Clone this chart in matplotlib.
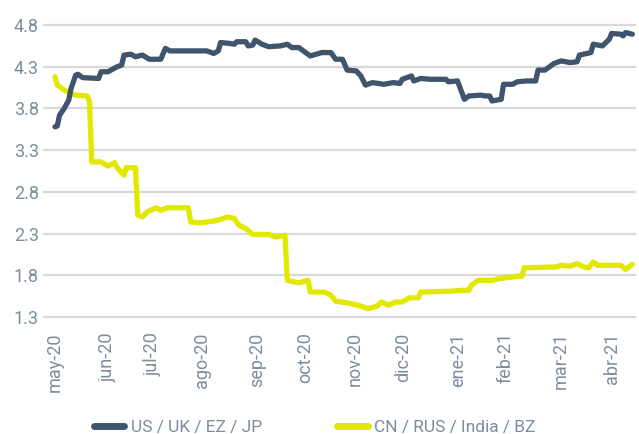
import matplotlib
matplotlib.use("Agg")
import matplotlib.pyplot as plt

# trading-day index and values
dev_days = [0, 1, 2, 4, 6, 7, 9, 10, 12, 19, 20, 23, 27, 29, 30, 33, 35, 38, 41, 46, 48, 50,
            66, 69, 71, 72, 76, 78, 79, 83, 84, 86, 87, 90, 93, 98, 101, 103, 106, 111, 116,
            120, 122, 125, 127, 131, 133, 135, 138, 143, 147, 150, 151, 155, 156, 159, 163,
            170, 171, 175, 178, 180, 185, 187, 189, 190, 194, 195, 199, 201, 205, 209, 210,
            213, 217, 220, 224, 227, 228, 233, 234, 238, 241, 242, 246, 247, 248, 251]
dev_vals = [3.58, 3.59, 3.72, 3.80, 3.90, 4.04, 4.20, 4.21, 4.17, 4.16, 4.24, 4.24, 4.30, 4.32,
            4.44, 4.45, 4.42, 4.44, 4.39, 4.39, 4.52, 4.49, 4.49, 4.46, 4.49, 4.59, 4.58, 4.57,
            4.60, 4.60, 4.55, 4.56, 4.62, 4.57, 4.54, 4.55, 4.57, 4.53, 4.53, 4.43, 4.47, 4.47,
            4.39, 4.39, 4.26, 4.25, 4.19, 4.08, 4.11, 4.09, 4.11, 4.10, 4.15, 4.19, 4.13, 4.16,
            4.15, 4.15, 4.12, 4.13, 3.91, 3.95, 3.96, 3.95, 3.95, 3.89, 3.91, 4.09, 4.09, 4.12,
            4.13, 4.13, 4.26, 4.26, 4.34, 4.37, 4.35, 4.36, 4.44, 4.47, 4.57, 4.55, 4.63, 4.70,
            4.69, 4.67, 4.71, 4.69]

em_days = [0, 1, 3, 6, 9, 14, 15, 16, 20, 23, 26, 27, 30, 31, 35, 36, 38, 40, 44, 46, 49, 58,
           59, 63, 69, 72, 75, 78, 80, 83, 86, 93, 96, 100, 101, 104, 106, 110, 111, 117, 120,
           122, 127, 132, 136, 140, 142, 145, 148, 151, 154, 158, 159, 172, 177, 180, 181, 184,
           190, 193, 199, 201, 203, 204, 218, 220, 224, 227, 230, 232, 234, 236, 246, 248, 251]
em_vals = [4.18, 4.08, 4.04, 3.99, 3.96, 3.95, 3.88, 3.16, 3.16, 3.11, 3.15, 3.09, 3.00, 3.09,
           3.09, 2.52, 2.50, 2.56, 2.61, 2.58, 2.61, 2.61, 2.44, 2.43, 2.45, 2.47, 2.50, 2.48,
           2.40, 2.36, 2.29, 2.29, 2.26, 2.28, 1.74, 1.72, 1.71, 1.74, 1.60, 1.60, 1.56, 1.49,
           1.47, 1.44, 1.40, 1.43, 1.48, 1.44, 1.48, 1.48, 1.53, 1.53, 1.60, 1.61, 1.62, 1.62,
           1.68, 1.74, 1.74, 1.76, 1.78, 1.79, 1.79, 1.89, 1.90, 1.92, 1.91, 1.94, 1.90, 1.89,
           1.96, 1.92, 1.92, 1.87, 1.93]

month_labels = ["may-20", "jun-20", "jul-20", "ago-20", "sep-20", "oct-20", "nov-20",
                "dic-20", "ene-21", "feb-21", "mar-21", "abr-21"]
month_pos = [0, 23, 42.5, 64, 87.7, 109, 130.4, 151.4, 175.3, 195.7, 219.9, 242]
y_ticks = [1.3, 1.8, 2.3, 2.8, 3.3, 3.8, 4.3, 4.8]

series_names = ["US / UK / EZ / JP", "CN / RUS / India / BZ"]
dark = "#3f556d"
yellow = "#e2e900"
txt = "#7d8d9d"
grid = "#d9d9d9"

plt.rcParams['font.family'] = ['Roboto', 'DejaVu Sans']

fig = plt.figure(figsize=(6.39, 4.34), dpi=100)
ax = fig.add_axes([0.0673, 0.2599, 0.9280, 0.692])

ax.plot(dev_days, dev_vals, color=dark, lw=3.8, solid_capstyle='round',
        solid_joinstyle='round', label=series_names[0], zorder=3)
ax.plot(em_days, em_vals, color=yellow, lw=3.8, solid_capstyle='round',
        solid_joinstyle='round', label=series_names[1], zorder=2)

ax.set_xlim(-5.2, 252.6)
ax.set_ylim(1.25, 4.85)
ax.set_yticks(y_ticks)
ax.set_yticklabels([f"{v:.1f}" for v in y_ticks])
ax.set_xticks(month_pos)
ax.set_xticklabels(month_labels, rotation=90)

for v in y_ticks:
    ax.axhline(v, color=grid, lw=1.6, zorder=1)

for s in ax.spines.values():
    s.set_visible(False)
ax.tick_params(axis='both', length=0, colors=txt, labelsize=13)
ax.tick_params(axis='y', pad=3)
ax.tick_params(axis='x', pad=8)

leg = fig.legend(loc='lower center', bbox_to_anchor=(0.493, -0.039), ncol=2, frameon=False,
                 fontsize=12.5, handlelength=1.75, handletextpad=0.4, columnspacing=4.3)
for t in leg.get_texts():
    t.set_color(txt)
for h in leg.get_lines():
    h.set_linewidth(5)

fig.savefig("out.png", dpi=100)
